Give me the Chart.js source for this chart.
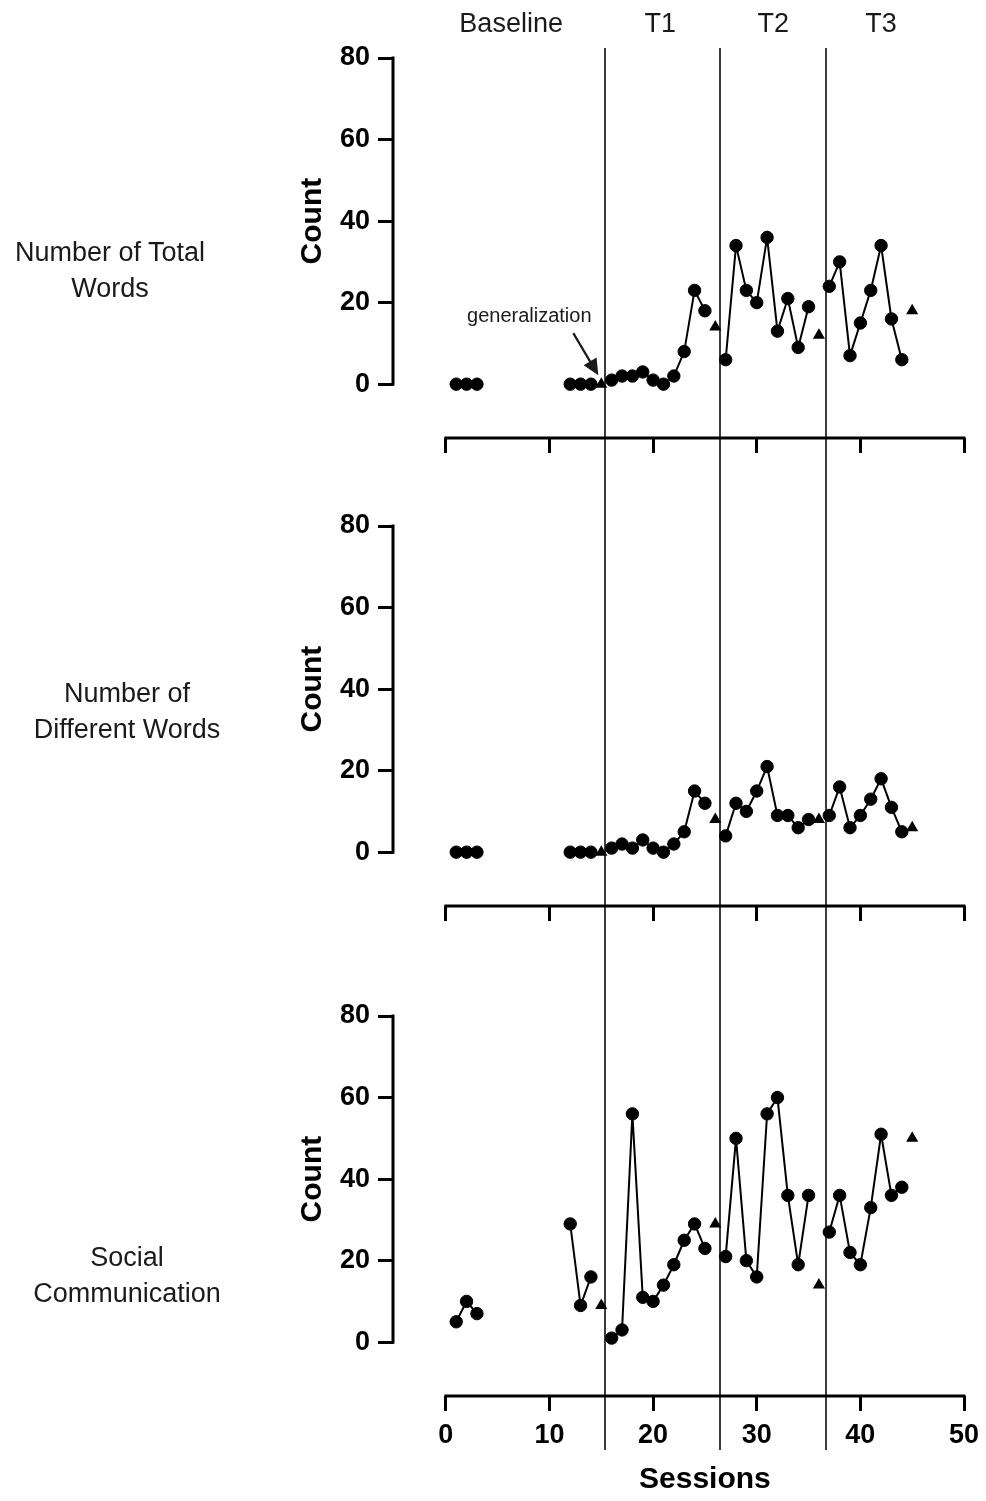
<!DOCTYPE html>
<html>
<head>
<meta charset="utf-8">
<script src="https://cdn.jsdelivr.net/npm/chart.js@4.4.0/dist/chart.umd.min.js"></script>
<style>
body { margin: 0; background: #fff; }
#wrap { position: relative; width: 986px; height: 1501px; overflow: hidden; background: #fff; }
canvas { position: absolute; left: 0; }
.side { position: absolute; width: 240px; text-align: center; font: 27px "Liberation Sans", Arial, sans-serif; line-height: 36px; color: #1a1a1a; }
</style>
</head>
<body>
<div id="wrap">
  <canvas id="c1" width="986" height="465" style="top:0px"></canvas>
  <canvas id="c2" width="986" height="468" style="top:465px"></canvas>
  <canvas id="c3" width="986" height="568" style="top:933px"></canvas>
  <div class="side" style="left:-10px; top:234px">Number of Total<br>Words</div>
  <div class="side" style="left:7px; top:675px">Number of<br>Different Words</div>
  <div class="side" style="left:7px; top:1239px">Social<br>Communication</div>
</div>

<script>
// ==== DATA ====
const sessions = [1,2,3,4,5,6,7,8,9,10,11,12,13,14,15,16,17,18,19,20,21,22,23,24,25,26,27,28,29,30,31,32,33,34,35,36,37,38,39,40,41,42,43,44];

// null = no session probe (gap in the line)
const totalWords = [0,0,0,null,null,null,null,null,null,null,null,0,0,0,null,1,2,2,3,1,0,2,8,23,18,null,6,34,23,20,36,13,21,9,19,null,24,30,7,15,23,34,16,6];
const differentWords = [0,0,0,null,null,null,null,null,null,null,null,0,0,0,null,1,2,1,3,1,0,2,5,15,12,null,4,12,10,15,21,9,9,6,8,null,9,16,6,9,13,18,11,5];
const socialComm = [5,10,7,null,null,null,null,null,null,null,null,29,9,16,null,1,3,56,11,10,14,19,25,29,23,null,21,50,20,16,56,60,36,19,36,null,27,36,22,19,33,51,36,38];

// generalization probes (triangles)
const genSessions = [15, 26, 36, 45];
const genTotal = [0, 14, 12, 18];
const genDifferent = [0, 8, 8, 6];
const genSocial = [9, 29, 14, 50];

// phase change lines and labels
const phaseLines = [15.4, 26.5, 36.7];
const phaseNames = ["Baseline", "T1", "T2", "T3"];
const phaseLabelAt = [6.3, 20.7, 31.6, 42.0];

const xTicks = [0, 10, 20, 30, 40, 50];
const yTicks = [0, 20, 40, 60, 80];

const FONT = '"Liberation Sans", Arial, sans-serif';

// dibuja ejes estilo prism, lineas de fase y titulos
const panelDecor = {
  id: "panelDecor",
  beforeDatasetsDraw(chart, args, opts) {
    const { ctx, chartArea, scales: { x, y } } = chart;
    ctx.save();
    // lineas de fase
    ctx.strokeStyle = "#3c3c3c";
    ctx.lineWidth = 2;
    for (const v of phaseLines) {
      const px = Math.round(x.getPixelForValue(v));
      ctx.beginPath();
      ctx.moveTo(px, opts.lineTop);
      ctx.lineTo(px, opts.lineBottom);
      ctx.stroke();
    }
    // ejes
    ctx.strokeStyle = "#000";
    ctx.lineWidth = 3;
    ctx.lineCap = "square";
    ctx.beginPath();
    ctx.moveTo(chartArea.left, y.getPixelForValue(yTicks[yTicks.length - 1]));
    ctx.lineTo(chartArea.left, y.getPixelForValue(yTicks[0]));
    ctx.stroke();
    ctx.beginPath();
    ctx.moveTo(x.getPixelForValue(xTicks[0]), chartArea.bottom);
    ctx.lineTo(x.getPixelForValue(xTicks[xTicks.length - 1]), chartArea.bottom);
    ctx.stroke();

    // titulo eje x (centrado en 0..50)
    if (opts.xTitle) {
      ctx.fillStyle = "#000";
      ctx.font = "bold 30px " + FONT;
      ctx.textAlign = "center";
      ctx.textBaseline = "middle";
      const cx = (x.getPixelForValue(xTicks[0]) + x.getPixelForValue(xTicks[xTicks.length - 1])) / 2;
      ctx.fillText("Sessions", cx, opts.xTitleY);
    }

    // titulo eje y
    const mid = (y.getPixelForValue(0) + y.getPixelForValue(80)) / 2;
    ctx.translate(313, mid);
    ctx.rotate(-Math.PI / 2);
    ctx.fillStyle = "#000";
    ctx.font = "bold 30px " + FONT;
    ctx.textAlign = "center";
    ctx.textBaseline = "middle";
    ctx.fillText("Count", 0, 0);
    ctx.restore();

    if (opts.topLabels) {
      ctx.save();
      ctx.fillStyle = "#1a1a1a";
      ctx.font = "27px " + FONT;
      ctx.textAlign = "center";
      ctx.textBaseline = "alphabetic";
      phaseNames.forEach((name, i) => {
        ctx.fillText(name, x.getPixelForValue(phaseLabelAt[i]), 32);
      });
      // anotacion "generalization"
      const gx = x.getPixelForValue(genSessions[0]);
      const gy = y.getPixelForValue(genTotal[0]);
      ctx.font = "20px " + FONT;
      ctx.fillText("generalization", gx - 72, gy - 62);
      const sx = gx - 28, sy = gy - 51, tx = gx - 3, ty = gy - 9;
      const ang = Math.atan2(ty - sy, tx - sx);
      ctx.strokeStyle = "#1a1a1a";
      ctx.lineWidth = 2.2;
      ctx.beginPath();
      ctx.moveTo(sx, sy);
      ctx.lineTo(tx - Math.cos(ang) * 10, ty - Math.sin(ang) * 10);
      ctx.stroke();
      ctx.beginPath();
      ctx.moveTo(tx, ty);
      ctx.lineTo(tx - Math.cos(ang) * 16 + Math.sin(ang) * 7.5, ty - Math.sin(ang) * 16 - Math.cos(ang) * 7.5);
      ctx.lineTo(tx - Math.cos(ang) * 16 - Math.sin(ang) * 7.5, ty - Math.sin(ang) * 16 + Math.cos(ang) * 7.5);
      ctx.closePath();
      ctx.fill();
      ctx.restore();
    }
  }
};

function makePanel(canvasId, values, genValues, cfg) {
  const circles = sessions.map((s, i) => ({ x: s, y: values[i] }));
  const triangles = genSessions.map((s, i) => ({ x: s, y: genValues[i] }));
  const showX = !!cfg.showX;

  return new Chart(document.getElementById(canvasId), {
    type: "line",
    data: {
      datasets: [
        {
          data: circles,
          borderColor: "#000",
          borderWidth: 2,
          backgroundColor: "#000",
          pointRadius: 6.2,
          pointBorderWidth: 1,
          pointBorderColor: "#000",
          pointBackgroundColor: "#000",
          tension: 0,
          spanGaps: false
        },
        {
          data: triangles,
          showLine: false,
          pointStyle: "triangle",
          pointRadius: 7,
          pointBorderWidth: 0,
          pointBackgroundColor: "#000",
          borderColor: "#000"
        }
      ]
    },
    options: {
      responsive: false,
      animation: false,
      events: [],
      clip: false,
      layout: { padding: { left: 0, right: 22, top: cfg.padTop, bottom: 0 } },
      plugins: {
        legend: { display: false },
        tooltip: { enabled: false },
        panelDecor: {
          lineTop: cfg.lineTop,
          lineBottom: cfg.lineBottom,
          topLabels: !!cfg.topLabels,
          xTitle: showX,
          xTitleY: cfg.xTitleY
        }
      },
      scales: {
        x: {
          type: "linear",
          min: -5.1,
          max: 50,
          border: { display: false },
          grid: { drawOnChartArea: false, drawTicks: true, tickLength: 15, color: "#000", lineWidth: 3 },
          ticks: {
            stepSize: 10,
            includeBounds: false,
            display: showX,
            color: "#000",
            padding: 8,
            maxRotation: 0,
            font: { family: FONT, size: 27, weight: "bold" }
          },
          afterBuildTicks: s => { s.ticks = xTicks.map(v => ({ value: v })); },
          afterFit: s => {
            s.height = cfg.xHeight;
            s.paddingLeft = 0;
            s.paddingRight = 0;
          }
        },
        y: {
          min: -13.2,
          max: 80,
          border: { display: false },
          grid: { drawOnChartArea: false, drawTicks: true, tickLength: 15, color: "#000", lineWidth: 3 },
          ticks: {
            stepSize: 20,
            includeBounds: false,
            color: "#000",
            padding: 8,
            font: { family: FONT, size: 27, weight: "bold" }
          },
          afterBuildTicks: s => { s.ticks = yTicks.map(v => ({ value: v })); },
          afterFit: s => {
            s.width = 393;
            s.paddingTop = 0;
            s.paddingBottom = 0;
          }
        }
      }
    },
    plugins: [panelDecor]
  });
}

makePanel("c1", totalWords, genTotal, { padTop: 58, xHeight: 27, lineTop: 48, lineBottom: 465, topLabels: true });
makePanel("c2", differentWords, genDifferent, { padTop: 61, xHeight: 27, lineTop: 0, lineBottom: 468 });
makePanel("c3", socialComm, genSocial, { padTop: 83, xHeight: 105, lineTop: 0, lineBottom: 517, showX: true, xTitleY: 547 });
</script>
</body>
</html>
